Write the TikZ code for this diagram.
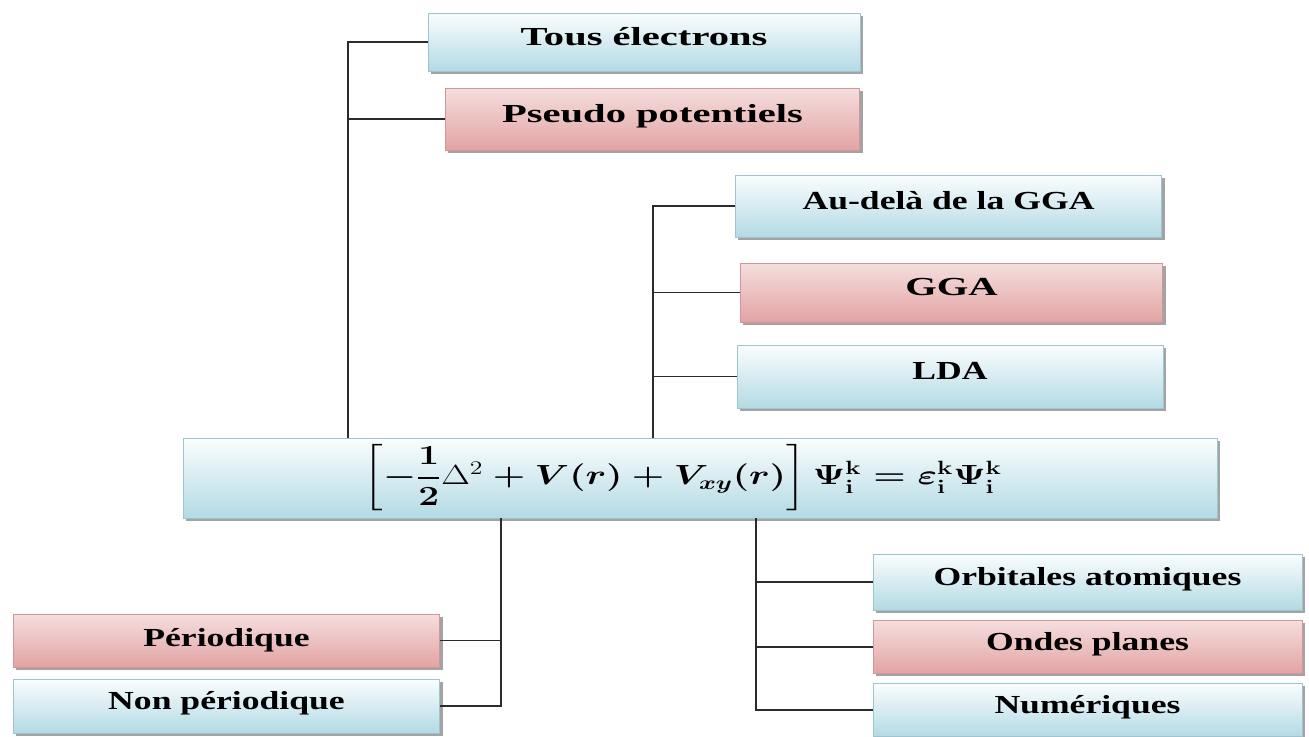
\documentclass[tikz,border=0pt]{standalone}
\usepackage{amsmath,bm}
\usepackage{fontspec}
\setmainfont{Liberation Serif}[FakeStretch=1.37]
\newfontfamily\widefont{Liberation Serif}[FakeStretch=1.56]
\usetikzlibrary{shadows}
\definecolor{blueTop}{HTML}{FAFDFE}
\definecolor{blueBot}{HTML}{B3DAE4}
\definecolor{blueLine}{HTML}{9DC5CF}
\definecolor{pinkTop}{HTML}{F5DEDE}
\definecolor{pinkBot}{HTML}{E3A3A3}
\definecolor{pinkLine}{HTML}{D49696}
\definecolor{shadowC}{HTML}{8C8C8C}
\definecolor{wireC}{HTML}{2B2B2B}
\tikzset{
 box/.style={rectangle, line width=0.6pt, font=\fontsize{19.5}{23}\selectfont\bfseries,
   text height=11.5pt, text depth=6.5pt,
   drop shadow={shadow xshift=2pt, shadow yshift=-2pt, fill=shadowC, opacity=0.8}, inner sep=0pt},
 widebox/.style={font=\fontsize{19.5}{23}\selectfont\widefont\bfseries},
 bluebox/.style={box, draw=blueLine, top color=blueTop, bottom color=blueBot},
 pinkbox/.style={box, draw=pinkLine, top color=pinkTop, bottom color=pinkBot},
 wire/.style={draw=wireC, line width=1.1pt},
}
\begin{document}
\begin{tikzpicture}[x=0.75pt,y=-0.75pt]
\useasboundingbox (0,0) rectangle (1309,736);
% top-left branch
\node[bluebox, widebox, minimum width=324pt, minimum height=43.5pt] (tous) at (644,42) {Tous électrons};
\node[pinkbox, widebox, minimum width=311pt, minimum height=46.5pt] (pseudo) at (652.5,119) {Pseudo potentiels};
% top-right branch
\node[bluebox, minimum width=320pt, minimum height=46.5pt] (audela) at (948.5,206) {Au-delà de la GGA};
\node[pinkbox, widebox, minimum width=317pt, minimum height=44.25pt] (gga) at (951.5,292.5) {GGA};
\node[bluebox, minimum width=319.5pt, minimum height=47.25pt] (lda) at (950,376.5) {LDA};
% equation
\node[bluebox, text height=, text depth=, minimum width=775.5pt, minimum height=60pt] (eq) at (700,478)
 {\scalebox{1.34}[1]{\fontsize{20.5}{24}\selectfont\boldmath$\left[-\dfrac{1}{2}\mbox{\unboldmath$\Delta^{2}$}+V(r)+V_{xy}(r)\right]\Psi_{\mathbf{i}}^{\mathbf{k}}=\varepsilon_{\mathbf{i}}^{\mathbf{k}}\Psi_{\mathbf{i}}^{\mathbf{k}}$}\hspace*{26pt}};
% bottom-left
\node[pinkbox, text height=, text depth=, minimum width=320pt, minimum height=39.75pt] (perio) at (226.5,640.5) {Périodique};
\node[bluebox, minimum width=320pt, minimum height=40.5pt] (nonp) at (226.5,706) {Non périodique};
% bottom-right
\node[bluebox, minimum width=321.75pt, minimum height=42pt] (orb) at (1087.5,582) {Orbitales atomiques};
\node[pinkbox, minimum width=321.75pt, minimum height=40pt] (ondes) at (1087.5,647) {Ondes planes};
\node[bluebox, minimum width=321.75pt, minimum height=40pt] (num) at (1087.5,710) {Numériques};
% junction columns
\coordinate (jl) at (348,0);
\coordinate (jr) at (653,0);
\coordinate (jb) at (501,0);
\coordinate (jc) at (756,0);
% connectors
\draw[wire] (tous.west) -| (jl |- eq.north);
\draw[wire] (pseudo.west) -- (pseudo.west -| jl);
\draw[wire] (audela.west) -| (jr |- eq.north);
\draw[wire] (gga.west) -- (gga.west -| jr);
\draw[wire] (lda.west) -- (lda.west -| jr);
\draw[wire] (jb |- eq.south) |- (nonp.east);
\draw[wire] (perio.east) -- (perio.east -| jb);
\draw[wire] (jc |- eq.south) |- (num.west);
\draw[wire] (orb.west) -- (orb.west -| jc);
\draw[wire] (ondes.west) -- (ondes.west -| jc);
\end{tikzpicture}
\end{document}
